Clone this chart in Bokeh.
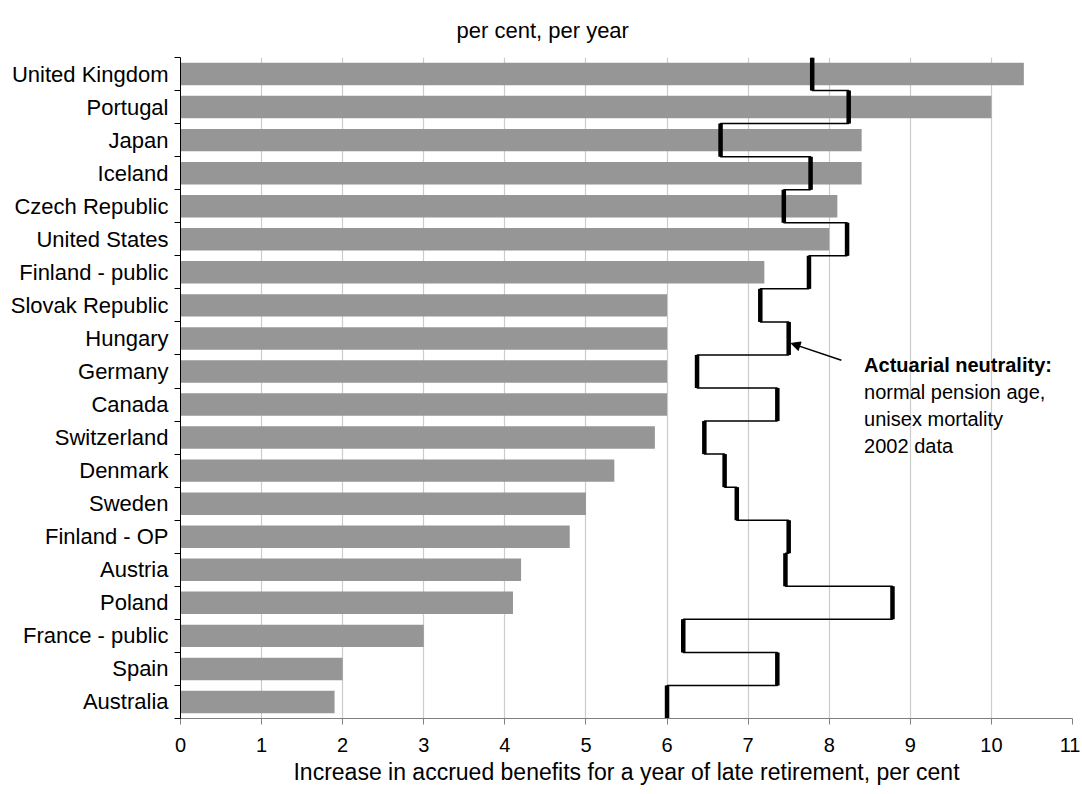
from bokeh.plotting import figure
from bokeh.models import FixedTicker, Range1d, Label, Arrow, NormalHead, ColumnDataSource, Title
from bokeh.embed import file_html
from bokeh.resources import INLINE

countries = ["United Kingdom", "Portugal", "Japan", "Iceland", "Czech Republic",
             "United States", "Finland - public", "Slovak Republic", "Hungary", "Germany",
             "Canada", "Switzerland", "Denmark", "Sweden", "Finland - OP",
             "Austria", "Poland", "France - public", "Spain", "Australia"]
increase = [10.4, 10.0, 8.4, 8.4, 8.1, 8.0, 7.2, 6.0, 6.0, 6.0,
            6.0, 5.85, 5.35, 5.0, 4.8, 4.2, 4.1, 3.0, 2.0, 1.9]
neutrality = [7.79, 8.24, 6.66, 7.77, 7.44, 8.22, 7.75, 7.15, 7.5, 6.37,
              7.36, 6.46, 6.71, 6.86, 7.5, 7.46, 8.78, 6.2, 7.36, 6.0]
x_ticks = list(range(0, 12))

FONT = "Liberation Sans"
n = len(countries)
ypos = [n - 1 - i for i in range(n)]

p = figure(width=1080, height=792, output_backend="svg", toolbar_location=None,
           x_range=Range1d(0, 11), y_range=Range1d(-0.5, n - 0.5),
           min_border_left=180, min_border_right=8, min_border_top=52, min_border_bottom=74)
p.outline_line_color = None
p.background_fill_color = "white"

src = ColumnDataSource(dict(y=ypos, v=increase, nv=neutrality,
                            top=[y + 0.5 for y in ypos], bot=[y - 0.5 for y in ypos]))

p.hbar(y="y", left=0, right="v", height=0.68, source=src, fill_color="#969696", line_color=None)

# step line connecting neutrality markers
sx, sy = [], []
for y, v in zip(ypos, neutrality):
    sx += [v, v]
    sy += [y + 0.5, y - 0.5]
p.line(sx, sy, line_color="black", line_width=1.5)
p.segment(x0="nv", x1="nv", y0="top", y1="bot", source=src, line_color="black", line_width=4.5)

# axes
p.xaxis.ticker = FixedTicker(ticks=x_ticks)
p.xaxis.axis_line_color = "#808080"
p.xaxis.major_tick_line_color = "#808080"
p.xaxis.major_tick_out = 6
p.xaxis.major_tick_in = 0
p.xaxis.minor_tick_line_color = None
p.xaxis.major_label_standoff = 13
p.xaxis.major_label_text_font = FONT
p.xaxis.major_label_text_font_size = "20px"
p.xaxis.major_label_text_color = "black"
p.xaxis.axis_label = "Increase in accrued benefits for a year of late retirement, per cent"
p.xaxis.axis_label_text_font = FONT
p.xaxis.axis_label_text_font_size = "23px"
p.xaxis.axis_label_text_font_style = "normal"
p.xaxis.axis_label_text_color = "black"
p.xaxis.axis_label_standoff = 4

p.yaxis.ticker = FixedTicker(ticks=ypos, minor_ticks=[y - 0.5 for y in ypos] + [n - 0.5])
p.yaxis.major_label_overrides = {y: c for y, c in zip(ypos, countries)}
p.yaxis.major_tick_line_color = None
p.yaxis.minor_tick_line_color = "black"
p.yaxis.minor_tick_out = 6
p.yaxis.minor_tick_in = 0
p.yaxis.axis_line_color = "black"
p.yaxis.major_label_standoff = 6
p.yaxis.major_label_text_font = FONT
p.yaxis.major_label_text_font_size = "22px"
p.yaxis.major_label_text_color = "black"

p.xgrid.ticker = FixedTicker(ticks=x_ticks)
p.xgrid.grid_line_color = "#cccccc"
p.xgrid.grid_line_width = 1.2
p.ygrid.grid_line_color = None

# title
p.add_layout(Title(text="per cent, per year", align="left", offset=276,
                   text_font=FONT, text_font_size="22px", text_font_style="normal",
                   text_color="black", standoff=30), "above")

# annotation
p.add_layout(Arrow(end=NormalHead(size=9, fill_color="black", line_color="black"),
                   x_start=8.15, y_start=10.34, x_end=7.53, y_end=10.85,
                   line_color="black", line_width=1.5))
lines = [("Actuarial neutrality:", "bold", 10.19),
         ("normal pension age,", "normal", 9.38),
         ("unisex mortality", "normal", 8.57),
         ("2002 data", "normal", 7.76)]
for txt, style, yy in lines:
    p.add_layout(Label(x=8.43, y=yy, text=txt, text_font=FONT, text_font_size="20px",
                       text_font_style=style, text_baseline="middle", text_align="left",
                       text_color="black"))

open("out.html", "w").write(file_html(p, INLINE))
